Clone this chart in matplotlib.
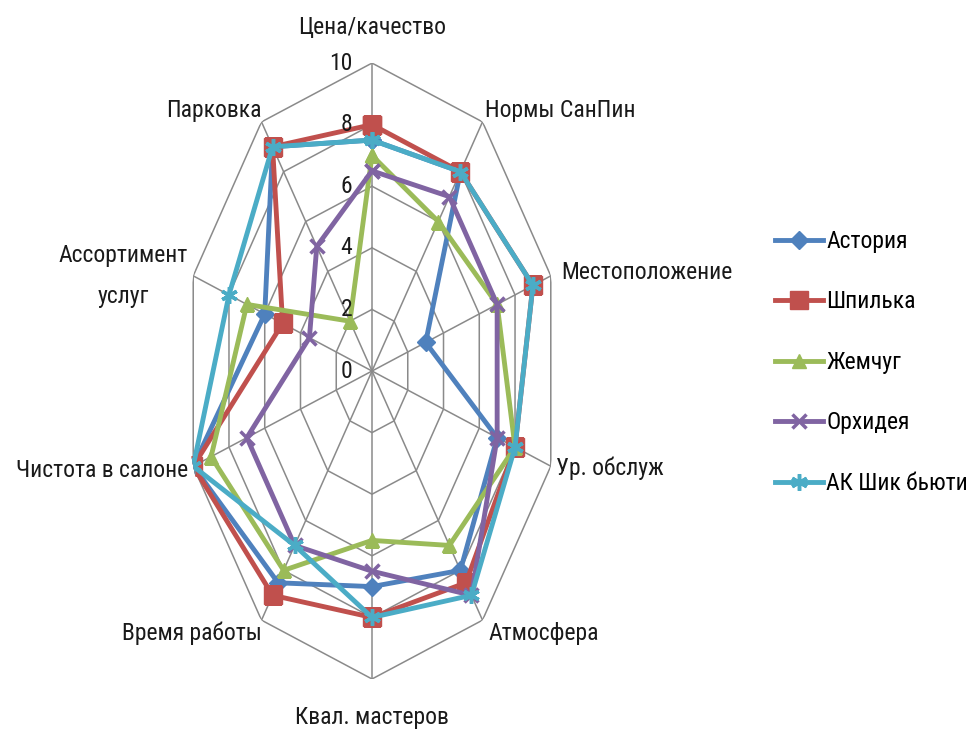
import numpy as np
import matplotlib
matplotlib.use("Agg")
import matplotlib.pyplot as plt
from matplotlib import font_manager

# narrow font if one is installed, else plain DejaVu at a smaller size
have = {f.name for f in font_manager.fontManager.ttflist}
fam = 'DejaVu Sans'
fs = 14
for cand, size in [('Liberation Sans Narrow', 18), ('Roboto Condensed', 17),
                   ('DejaVu Sans Condensed', 15), ('Open Sans Condensed', 17)]:
    if cand in have:
        fam, fs = cand, size
        break
plt.rcParams['font.family'] = [fam, 'DejaVu Sans']

categories = ['Цена/качество', 'Нормы СанПин', 'Местоположение', 'Ур. обслуж',
              'Атмосфера', 'Квал. мастеров', 'Время работы', 'Чистота в салоне',
              'Ассортимент\nуслуг', 'Парковка']
series_names = ['Астория', 'Шпилька', 'Жемчуг', 'Орхидея', 'АК Шик бьюти']
astoria = [7.5, 8, 3, 7, 8, 7, 8.5, 10, 6, 9]
shpilka = [8, 8, 9, 8, 8.5, 8, 9, 10, 5, 9]
zhemchug = [7, 6, 7, 8, 7, 5.5, 8, 9, 7, 2]
orhideya = [6.5, 7, 7, 7, 9, 6.5, 7, 7, 3.5, 5]
shik = [7.5, 8, 9, 8, 9, 8, 7, 10, 8, 9]
ticks = [0, 2, 4, 6, 8, 10]

colors = ['#4F81BD', '#C0504D', '#9BBB59', '#8064A2', '#4BACC6']
markers = ['D', 's', '^', 'x', (6, 2, 0)]
msizes = [9, 13, 10, 10, 12]

fig = plt.figure(figsize=(9.67, 7.35), dpi=100)
ax = fig.add_axes([0.1903, 0.0762, 0.3888, 0.838], projection='polar')
ax.set_theta_zero_location('N')
ax.set_theta_direction(-1)
ax.set_aspect('auto')
ax.set_ylim(0, 10)
ax.grid(False)
ax.spines['polar'].set_visible(False)
ax.set_xticks([])
ax.set_yticks([])
ax.patch.set_alpha(0)

n = len(categories)
ang = np.linspace(0, 2 * np.pi, n, endpoint=False)
ang_c = np.append(ang, ang[0])

grid_c = '#8a8a8a'
for r in ticks[1:]:
    ax.plot(ang_c, [r] * (n + 1), color=grid_c, lw=1.1, zorder=1)
for a in ang:
    ax.plot([a, a], [0, 10], color=grid_c, lw=1.1, zorder=1)

data = [astoria, shpilka, zhemchug, orhideya, shik]
for name, vals, c, m, ms in zip(series_names, data, colors, markers, msizes):
    v = np.append(vals, vals[0])
    ax.plot(ang_c, v, color=c, lw=3.5, marker=m, markersize=ms,
            markeredgewidth=2.5 if m in ('x', (6, 2, 0)) else 1,
            label=name, zorder=3)

px = 0.72
# category labels: offset in pixels, alignment
offs = [((0, 36), 'center'), ((3, 11), 'left'), ((10, 3), 'left'),
        ((5, -2), 'left'), ((6, -13), 'left'), ((0, -39), 'center'),
        ((0, -13), 'right'), ((-5, -4), 'right'), ((-5, 0), 'right'),
        ((0, 11), 'right')]
for a, lab, ((dx, dy), ha) in zip(ang, categories, offs):
    ax.annotate(lab, xy=(a, 10), xytext=(dx * px, dy * px),
                textcoords='offset points', ha=ha, va='center',
                fontsize=fs, color='#1a1a1a', multialignment='center',
                linespacing=2.0, annotation_clip=False)

for t in ticks:
    ax.annotate(str(t), xy=(0, t), xytext=(-20 * px, 0),
                textcoords='offset points', ha='right', va='center',
                fontsize=fs, color='#1a1a1a', annotation_clip=False)

fig.legend(loc='center left', bbox_to_anchor=(775 / 967, 0.507),
           frameon=False, fontsize=fs, handlelength=1.9 * 18 / fs,
           handletextpad=0.15, labelspacing=1.5 * 18 / fs,
           borderpad=0, borderaxespad=0)

fig.savefig('out.png', dpi=100)
